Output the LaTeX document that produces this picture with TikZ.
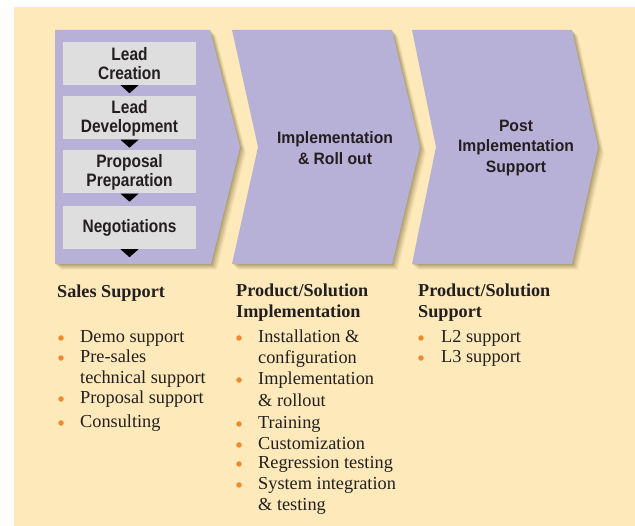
\documentclass[tikz,border=0pt]{standalone}
\usepackage{fontspec}
\setmainfont{Liberation Serif}
\newfontfamily\hvbox{Liberation Sans}[FakeStretch=0.86]
\newfontfamily\hvchev{Liberation Sans}[FakeStretch=0.95]
\definecolor{bgyellow}{HTML}{FDE9BA}
\definecolor{chevpurple}{HTML}{B8B1D7}
\definecolor{boxgrey}{HTML}{DEDEDE}
\definecolor{bulorange}{HTML}{EE8A2C}
\definecolor{txtdark}{HTML}{231F20}
\definecolor{shadowcol}{HTML}{6E6030}
\tikzset{
  stagebox/.style={fill=boxgrey, minimum width=133pt, minimum height=43pt, inner sep=0pt,
    align=center, text=txtdark, font=\hvbox\bfseries\fontsize{18}{19}\selectfont},
  chevlabel/.style={align=center, text=txtdark, inner sep=0pt,
    font=\hvchev\bfseries\fontsize{16.5}{20.5}\selectfont},
  headtxt/.style={anchor=base west, inner sep=0pt, text=txtdark, font=\bfseries\fontsize{18.2}{20}\selectfont},
  itemtxt/.style={anchor=base west, inner sep=0pt, text=txtdark, font=\fontsize{18.3}{20}\selectfont},
  bulletdot/.style={circle, fill=bulorange, inner sep=0pt, minimum size=5.5pt},
  downtri/.style={fill=black},
}
\begin{document}
\begin{tikzpicture}[x=1pt,y=-1pt]
\useasboundingbox (0,0) rectangle (635,526);
\fill[white] (0,0) rectangle (635,526);
\fill[bgyellow] (14,7) rectangle (635,526);

% chevron outlines
\def\chevA{(55,30) -- (210,30) -- (240,147) -- (211,264) -- (55,264) -- cycle}
\def\chevB{(232,30) -- (392,30) -- (420,147) -- (392,264) -- (232,264) -- (258,147) -- cycle}
\def\chevC{(412,30) -- (572,30) -- (598,147) -- (572,264) -- (412,264) -- (436,147) -- cycle}

% soft shadows
\foreach \s/\o in {6/0.06,5/0.08,4/0.10,3/0.12,2/0.14,1/0.16}{
  \fill[shadowcol, opacity=\o, shift={(\s,\s)}] \chevA;
  \fill[shadowcol, opacity=\o, shift={(\s,\s)}] \chevB;
  \fill[shadowcol, opacity=\o, shift={(\s,\s)}] \chevC;
}
\fill[chevpurple] \chevA;
\fill[chevpurple] \chevB;
\fill[chevpurple] \chevC;

% stage boxes in first chevron
\node[stagebox] (lc) at (129.5,63.5) {Lead\\Creation};
\node[stagebox] (ld) at (129.5,118) {Lead\\Development};
\node[stagebox] (pp) at (129.5,172) {Proposal\\Preparation};
\node[stagebox] (ng) at (129.5,227.5) {Negotiations};
\foreach \b in {lc,ld,pp,ng}{
  \fill[downtri] ([xshift=-9pt]\b.south) -- ([xshift=9pt]\b.south) -- ([yshift=-8pt]\b.south) -- cycle;
}

% chevron labels
\node[chevlabel] (impl) at (335,148) {Implementation\\\& Roll out};
\node[chevlabel] (post) at (516,148) {Post\\Implementation\\Support};

% column 1
\node[headtxt] (h1) at (57,298) {Sales Support};
\foreach \t/\y/\b in {Demo support/343/1, Pre-sales/363/1, technical support/384/0, Proposal support/404/1, Consulting/428/1}{
  \node[itemtxt] at (80,\y) {\t};
  \ifnum\b=1 \node[bulletdot] at (61,\y-5) {};\fi
}

% column 2
\node[headtxt] (h2a) at (236,297) {Product/Solution};
\node[headtxt] (h2b) at (236,318) {Implementation};
\foreach \t/\y/\b in {Installation \&/343/1, configuration/364/0, Implementation/385/1, \& rollout/407/0, Training/429/1, Customization/450/1, Regression testing/469/1, System integration/490/1, \& testing/511/0}{
  \node[itemtxt] at (258,\y) {\t};
  \ifnum\b=1 \node[bulletdot] at (239,\y-5) {};\fi
}

% column 3
\node[headtxt] (h3a) at (418,297) {Product/Solution};
\node[headtxt] (h3b) at (418,318) {Support};
\foreach \t/\y in {L2 support/343, L3 support/363}{
  \node[itemtxt] at (441,\y) {\t};
  \node[bulletdot] at (421,\y-5) {};
}
\end{tikzpicture}
\end{document}
